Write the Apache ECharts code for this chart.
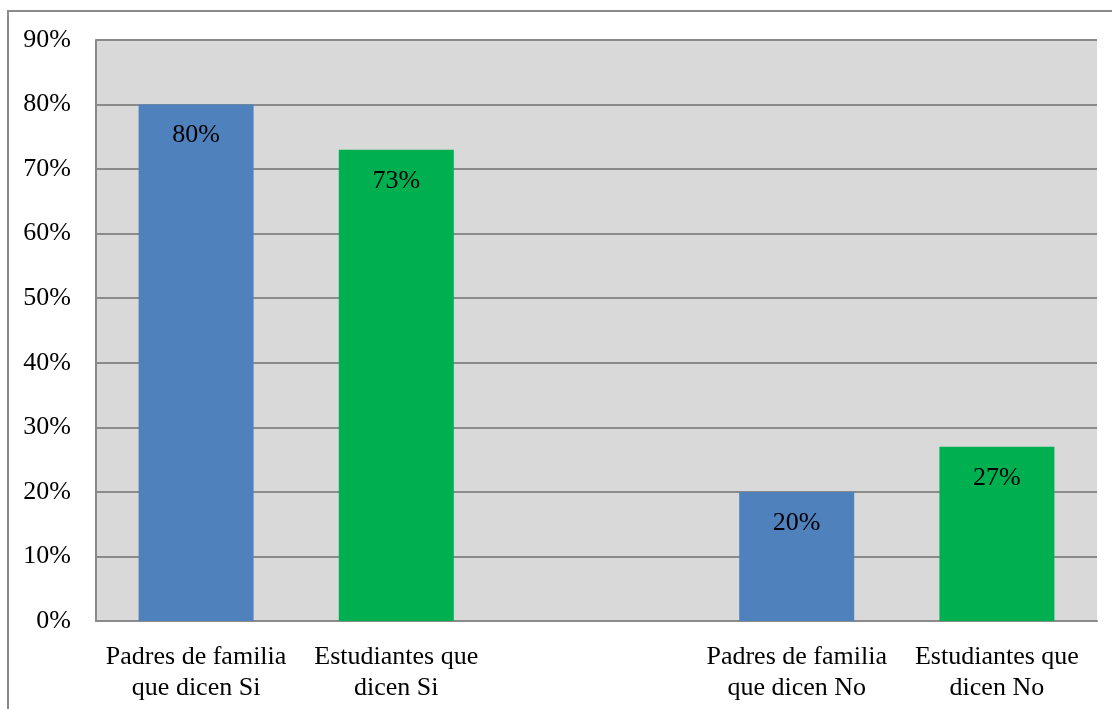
<!DOCTYPE html>
<html>
<head>
<meta charset="utf-8">
<script src="https://cdn.jsdelivr.net/npm/echarts@6/dist/echarts.min.js"></script>
<style>
html,body{margin:0;padding:0;background:#fff;}
#frame{position:absolute;left:7px;top:10px;width:1200px;height:800px;border:2px solid #8a8a8a;box-sizing:border-box;}
#chart{position:absolute;left:0;top:0;width:1112px;height:709px;}
</style>
</head>
<body>
<div id="frame"></div>
<div id="chart"></div>
<script>
const categories = ['Padres de familia\nque dicen Si', 'Estudiantes que\ndicen Si', '', 'Padres de familia\nque dicen No', 'Estudiantes que\ndicen No'];
const values = [80, 73, null, 20, 27];
const barColors = ['#4F81BD', '#00B050', '#4F81BD', '#4F81BD', '#00B050'];
const yTicks = [0, 10, 20, 30, 40, 50, 60, 70, 80, 90];

const chart = echarts.init(document.getElementById('chart'));
const font = '"Liberation Serif", "Times New Roman", serif';
chart.setOption({
  animation: false,
  grid: {left: 96, right: 15, top: 40, bottom: 88, show: true, backgroundColor: '#D9D9D9', borderWidth: 0},
  xAxis: {
    type: 'category',
    data: categories,
    axisTick: {show: false},
    axisLine: {lineStyle: {color: '#8a8a8a', width: 2}},
    axisLabel: {color: '#000', fontFamily: font, fontSize: 26, lineHeight: 31, margin: 21, interval: 0}
  },
  yAxis: {
    type: 'value',
    min: 0, max: 90, interval: 10,
    axisLine: {show: true, lineStyle: {color: '#8a8a8a', width: 2}},
    axisTick: {show: false},
    splitLine: {lineStyle: {color: '#8a8a8a', width: 2}},
    axisLabel: {color: '#000', fontFamily: font, fontSize: 26, margin: 25, padding: [6, 0, 0, 0], formatter: v => yTicks.includes(v) ? v + '%' : ''}
  },
  series: [{
    type: 'bar',
    barWidth: 115,
    data: values.map((v, i) => ({value: v, itemStyle: {color: barColors[i]}})),
    label: {show: true, position: 'insideTop', distance: 18, color: '#000', fontFamily: font, fontSize: 26, formatter: p => p.value + '%'}
  }]
});
</script>
</body>
</html>
